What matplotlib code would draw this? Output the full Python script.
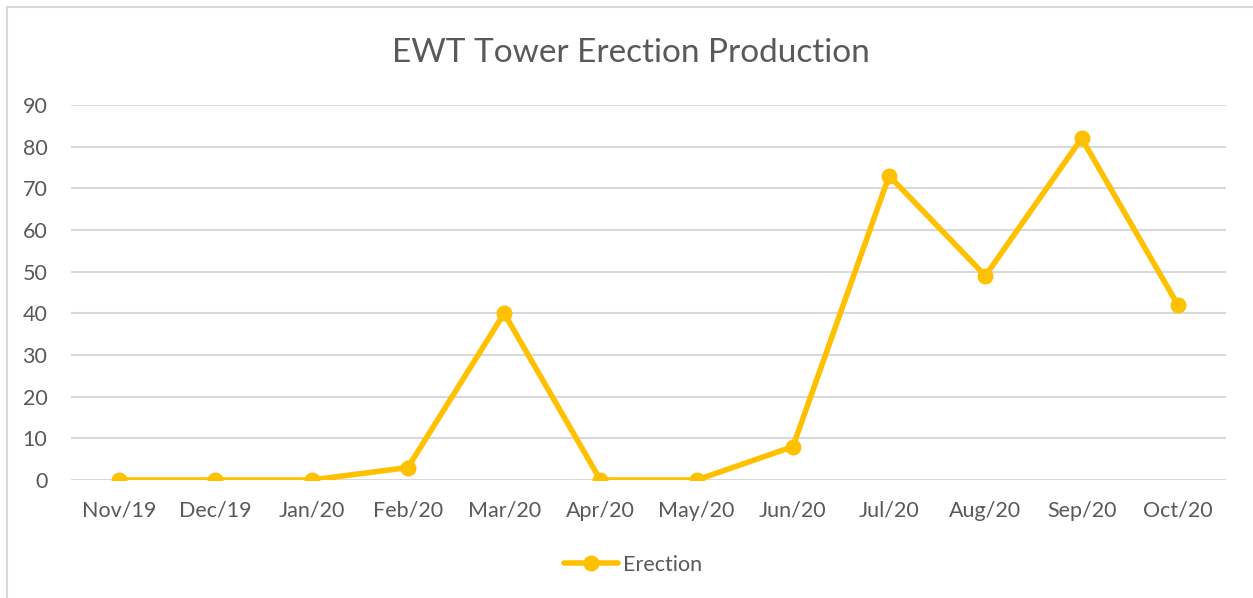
import matplotlib.pyplot as plt
from matplotlib.patches import Rectangle

months = ["Nov/19", "Dec/19", "Jan/20", "Feb/20", "Mar/20", "Apr/20",
          "May/20", "Jun/20", "Jul/20", "Aug/20", "Sep/20", "Oct/20"]
erection = [0, 0, 0, 3, 40, 0, 0, 8, 73, 49, 82, 42]
y_ticks = [0, 10, 20, 30, 40, 50, 60, 70, 80, 90]

yellow = "#FFC000"
text_grey = "#595959"
grid_grey = "#D9D9D9"

plt.rcParams["font.family"] = ["Lato", "DejaVu Sans"]

fig = plt.figure(figsize=(12.53, 5.98), dpi=100)
ax = fig.add_axes([71 / 1253, 118 / 598, 1155 / 1253, 375 / 598])

# chart border (the frame is cropped at right/bottom)
fig.patches.append(Rectangle((7 / 1253, -0.1), 1.2, (598 - 7) / 598 + 0.1,
                             transform=fig.transFigure, fill=False,
                             edgecolor=grid_grey, linewidth=1.5))

x = range(len(months))
ax.plot(x, erection, color=yellow, lw=4, marker="o", markersize=10.5,
        label="Erection", solid_capstyle="round")

ax.set_xlim(-0.5, len(months) - 0.5)
ax.set_ylim(0, 90)
ax.set_yticks(y_ticks)
ax.set_xticks(list(x))
ax.set_xticklabels(months)
ax.grid(axis="y", color=grid_grey, lw=1.5)
ax.set_axisbelow(True)
for s in ax.spines.values():
    s.set_visible(False)
ax.tick_params(length=0, labelsize=15.5, colors=text_grey)
ax.tick_params(axis="x", pad=15)
ax.tick_params(axis="y", pad=17)

fig.text(631 / 1253, 1 - 53 / 598, "EWT Tower Erection Production",
         ha="center", va="center", fontsize=24, color=text_grey)

fig.legend(loc="center", bbox_to_anchor=(633 / 1253, 1 - 565 / 598),
           frameon=False, fontsize=15.5, labelcolor=text_grey,
           handlelength=2.5, handletextpad=0.2)

plt.savefig("out.png", dpi=100)
